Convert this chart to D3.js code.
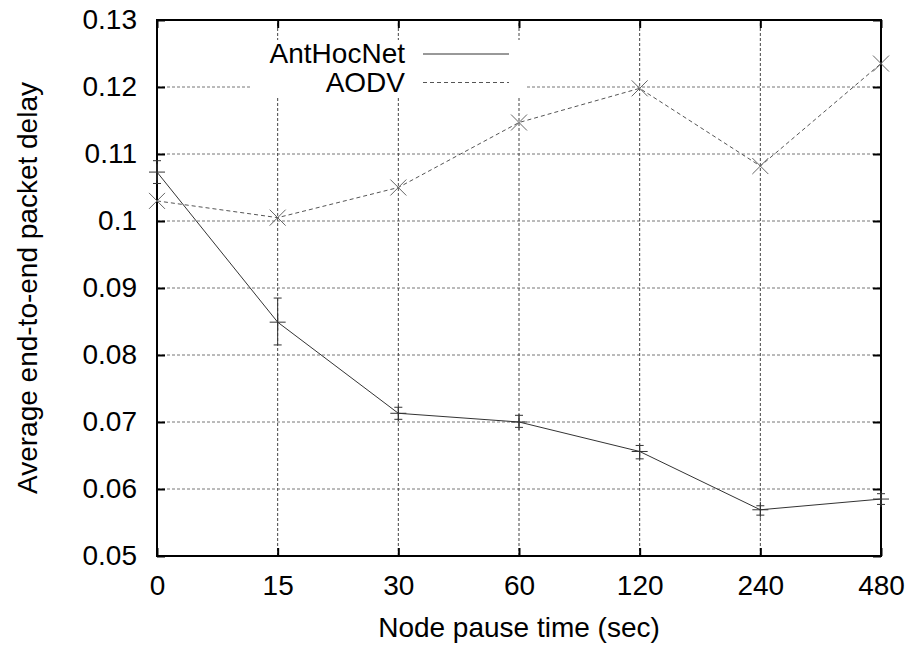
<!DOCTYPE html>
<html>
<head>
<meta charset="utf-8">
<script src="https://cdn.jsdelivr.net/npm/d3@7"></script>
<style>
  body { margin: 0; background: #fff; }
  text { font-family: "Liberation Sans", Arial, sans-serif; fill: #000; }
</style>
</head>
<body>
<div id="chart"></div>
<script>
// node pause time categories (evenly spaced on the x axis)
const pauseTimes = ["0", "15", "30", "60", "120", "240", "480"];

// AntHocNet average delay with error bar limits
const antHocNetDelay = [0.1073, 0.0849, 0.0713, 0.0700, 0.0656, 0.0569, 0.0585];
const antHocNetLow   = [0.1056, 0.0815, 0.0704, 0.0692, 0.0645, 0.0561, 0.0577];
const antHocNetHigh  = [0.1090, 0.0885, 0.0722, 0.0710, 0.0665, 0.0575, 0.0593];

// AODV average delay
const aodvDelay = [0.1030, 0.1005, 0.1050, 0.1147, 0.1198, 0.1082, 0.1235];

const yTicks = [0.05, 0.06, 0.07, 0.08, 0.09, 0.1, 0.11, 0.12, 0.13];

const width = 909, height = 649;
const margin = { left: 157, right: 28, top: 20, bottom: 93 };

const svg = d3.select('#chart')
  .append('svg')
  .attr('width', width)
  .attr('height', height);

const x = d3.scalePoint()
  .domain(pauseTimes)
  .range([margin.left, width - margin.right]);

const y = d3.scaleLinear()
  .domain([0.05, 0.13])
  .range([height - margin.bottom, margin.top]);

const x0 = margin.left, x1 = width - margin.right;
const y0 = height - margin.bottom, y1 = margin.top;

// grid
const grid = svg.append('g').attr('class', 'grid');
grid.selectAll('line.h')
  .data(yTicks.slice(1, -1))
  .enter()
  .append('line')
  .attr('class', 'h')
  .attr('x1', x0).attr('x2', x1)
  .attr('y1', d => y(d)).attr('y2', d => y(d))
  .attr('stroke', '#777')
  .attr('stroke-width', 1)
  .attr('stroke-dasharray', '3,2');

grid.selectAll('line.v')
  .data(pauseTimes.slice(1, -1))
  .enter()
  .append('line')
  .attr('class', 'v')
  .attr('x1', d => x(d)).attr('x2', d => x(d))
  .attr('y1', y0).attr('y2', y1)
  .attr('stroke', '#444')
  .attr('stroke-width', 1)
  .attr('stroke-dasharray', '3,2');

// legend background hides grid behind the key
svg.append('rect')
  .attr('x', 252).attr('y', 40)
  .attr('width', 273).attr('height', 58)
  .attr('fill', '#fff');

// axes (ticks pointing inward)
const fontSize = 28;
const styleAxis = g => {
  g.select('.domain').remove();
  g.selectAll('.tick line').attr('stroke', '#000').attr('stroke-width', 2);
  g.selectAll('.tick text')
    .attr('font-size', fontSize)
    .attr('font-family', '"Liberation Sans", Arial, sans-serif');
};

svg.append('g')
  .attr('transform', `translate(0,${y0})`)
  .call(d3.axisBottom(x).tickSize(-8).tickPadding(19))
  .call(styleAxis);

svg.append('g')
  .attr('transform', `translate(${x0},0)`)
  .call(d3.axisLeft(y).tickValues(yTicks).tickSize(-8).tickPadding(20)
    .tickFormat(d => d3.format('')(+d.toFixed(2))))
  .call(styleAxis);

svg.append('g')
  .attr('transform', `translate(0,${y1})`)
  .call(d3.axisTop(x).tickSize(-8).tickFormat(''))
  .call(styleAxis);

svg.append('g')
  .attr('transform', `translate(${x1},0)`)
  .call(d3.axisRight(y).tickValues(yTicks).tickSize(-8).tickFormat(''))
  .call(styleAxis);

// frame
svg.append('rect')
  .attr('x', x0).attr('y', y1)
  .attr('width', x1 - x0).attr('height', y0 - y1)
  .attr('fill', 'none')
  .attr('stroke', '#000')
  .attr('stroke-width', 2);

// AODV series
const aodvData = pauseTimes.map((p, i) => ({ p, v: aodvDelay[i] }));
svg.append('path')
  .datum(aodvData)
  .attr('fill', 'none')
  .attr('stroke', '#555')
  .attr('stroke-width', 1)
  .attr('stroke-dasharray', '4,3')
  .attr('d', d3.line().x(d => x(d.p)).y(d => y(d.v)));

const cross = svg.append('g').attr('class', 'aodv-points')
  .selectAll('path')
  .data(aodvData)
  .enter()
  .append('path')
  .attr('d', d => {
    const cx = x(d.p), cy = y(d.v), s = 8;
    return `M${cx - s},${cy - s}L${cx + s},${cy + s}M${cx - s},${cy + s}L${cx + s},${cy - s}`;
  })
  .attr('stroke', '#666')
  .attr('stroke-width', 1)
  .attr('fill', 'none');

// AntHocNet series
const antData = pauseTimes.map((p, i) => ({
  p, v: antHocNetDelay[i], lo: antHocNetLow[i], hi: antHocNetHigh[i]
}));
svg.append('path')
  .datum(antData)
  .attr('fill', 'none')
  .attr('stroke', '#333')
  .attr('stroke-width', 1)
  .attr('d', d3.line().x(d => x(d.p)).y(d => y(d.v)));

const errs = svg.append('g').attr('class', 'ant-errors')
  .selectAll('path')
  .data(antData)
  .enter()
  .append('path')
  .attr('d', d => {
    const cx = x(d.p), c = 4, s = 8;
    const yl = y(d.lo), yh = y(d.hi), yv = y(d.v);
    return `M${cx},${yl}L${cx},${yh}` +
      `M${cx - c},${yl}L${cx + c},${yl}` +
      `M${cx - c},${yh}L${cx + c},${yh}` +
      `M${cx - s},${yv}L${cx + s},${yv}` +
      `M${cx},${yv - s}L${cx},${yv + s}`;
  })
  .attr('stroke', '#333')
  .attr('stroke-width', 1)
  .attr('fill', 'none');

// legend
const legend = svg.append('g').attr('class', 'legend');
const legendItems = [
  { label: 'AntHocNet', dash: null, color: '#333', y: 54 },
  { label: 'AODV', dash: '4,3', color: '#555', y: 82.5 }
];
legendItems.forEach(item => {
  legend.append('text')
    .attr('x', 405)
    .attr('y', item.y + 9)
    .attr('text-anchor', 'end')
    .attr('font-size', fontSize)
    .text(item.label);
  legend.append('line')
    .attr('x1', 423).attr('x2', 509)
    .attr('y1', item.y).attr('y2', item.y)
    .attr('stroke', item.color)
    .attr('stroke-width', 1)
    .attr('stroke-dasharray', item.dash);
});

// axis titles
svg.append('text')
  .attr('x', (x0 + x1) / 2)
  .attr('y', 637)
  .attr('text-anchor', 'middle')
  .attr('font-size', fontSize)
  .text('Node pause time (sec)');

svg.append('text')
  .attr('transform', `translate(37,${(y0 + y1) / 2}) rotate(-90)`)
  .attr('text-anchor', 'middle')
  .attr('font-size', fontSize)
  .text('Average end-to-end packet delay');
</script>
</body>
</html>
